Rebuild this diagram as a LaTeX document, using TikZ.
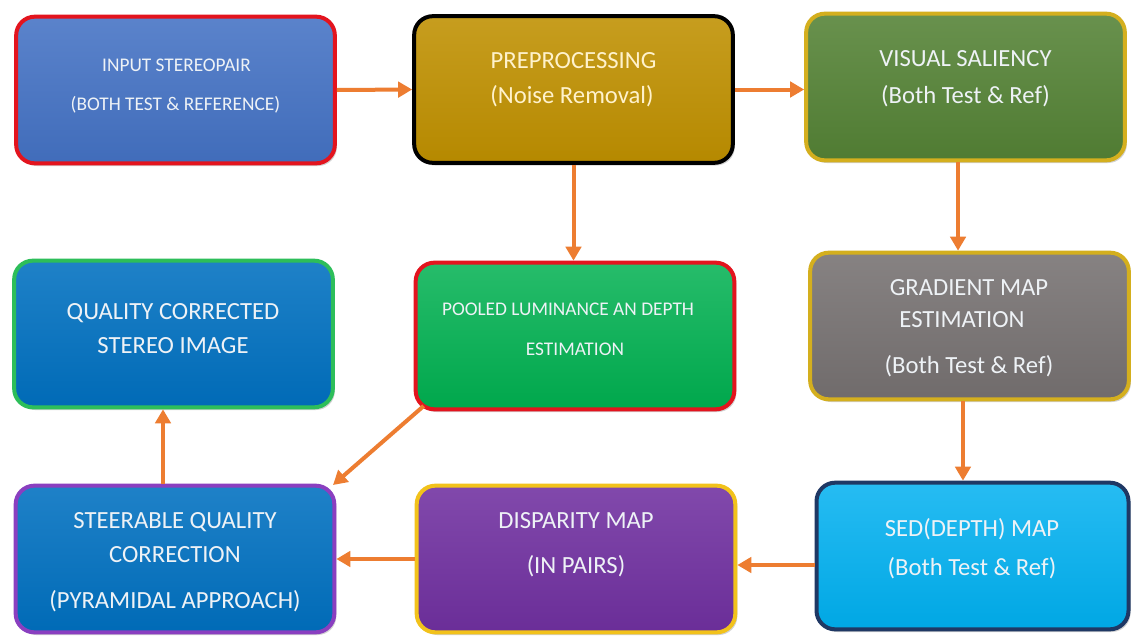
\documentclass[tikz,border=0pt]{standalone}
\usepackage{fontspec}
\setmainfont{Carlito}
\usetikzlibrary{arrows.meta,shadows}
\definecolor{cInput}{HTML}{4472C4}
\definecolor{cPre}{HTML}{BF9000}
\definecolor{cVis}{HTML}{548235}
\definecolor{cQual}{HTML}{0070C0}
\definecolor{cPool}{HTML}{00B050}
\definecolor{cGrad}{HTML}{767171}
\definecolor{cPurp}{HTML}{7030A0}
\definecolor{cSed}{HTML}{00B0F0}
\definecolor{bRed}{HTML}{E3141E}
\definecolor{bGold}{HTML}{D4AF1E}
\definecolor{bYel}{HTML}{F2C21B}
\definecolor{bGreen}{HTML}{2DBE5A}
\definecolor{bPurp}{HTML}{8A3FC0}
\definecolor{bNavy}{HTML}{1F3864}
\definecolor{cArrow}{HTML}{ED7D31}
\definecolor{tLight}{HTML}{EEF2F6}
\definecolor{tCream}{HTML}{FFF2CC}
\tikzset{
  box/.style={rounded corners=14pt, line width=3pt, inner sep=0pt,
    minimum width=239pt, minimum height=110pt,
    drop shadow={shadow xshift=1.5pt, shadow yshift=-2pt, opacity=0.35}},
  big/.style={anchor=base, inner sep=0pt, text=tLight, font=\fontsize{18.5}{20}\selectfont},
  small/.style={anchor=base, inner sep=0pt, text=tLight, font=\fontsize{14.5}{16}\selectfont},
  arr/.style={draw=cArrow, line width=3pt, -{Triangle[length=10.5pt,width=11.5pt]}},
}
\begin{document}
\begin{tikzpicture}[x=0.75pt,y=-0.75pt]
\useasboundingbox (0,0) rectangle (1132,636);
\fill[white] (0,0) rectangle (1132,636);

% boxes
\node[box, top color=cInput!88!white, bottom color=cInput!95!black, draw=bRed] (n1) at (175.5,90) {};
\node[box, top color=cPre!88!white, bottom color=cPre!95!black, draw=black] (n2) at (573.5,89.5) {};
\node[box, top color=cVis!88!white, bottom color=cVis!95!black, draw=bGold] (n3) at (965.5,87) {};
\node[box, top color=cQual!88!white, bottom color=cQual!95!black, draw=bGreen] (n4) at (173.5,334) {};
\node[box, top color=cPool!85!white, bottom color=cPool!95!black, draw=bRed] (n5) at (575,336) {};
\node[box, top color=cGrad!88!white, bottom color=cGrad!95!black, draw=bGold] (n6) at (969.5,326) {};
\node[box, top color=cQual!88!white, bottom color=cQual!95!black, draw=bPurp] (n7) at (175,559) {};
\node[box, top color=cPurp!88!white, bottom color=cPurp!95!black, draw=bYel] (n8) at (576,559) {};
\node[box, minimum width=234pt, top color=cSed!85!white, bottom color=cSed!95!black, draw=bNavy] (n9) at (972.5,556) {};

% texts
\node[small] (t1a) at (176.5,71) {INPUT STEREOPAIR};
\node[small] (t1b) at (175.5,110) {(BOTH TEST \& REFERENCE)};
\node[big, text=tCream] (t2a) at (573.5,68) {PREPROCESSING};
\node[big, text=tCream] (t2b) at (572,103) {(Noise Removal)};
\node[big] (t3a) at (965.5,66) {VISUAL SALIENCY};
\node[big] (t3b) at (965.5,103) {(Both Test \& Ref)};
\node[big] (t4a) at (173,319) {QUALITY CORRECTED};
\node[big] (t4b) at (173,353) {STEREO IMAGE};
\node[small] (t5a) at (568,315) {POOLED LUMINANCE AN DEPTH};
\node[small] (t5b) at (575,355) {ESTIMATION};
\node[big] (t6a) at (969,295) {GRADIENT MAP};
\node[big] (t6b) at (962,327) {ESTIMATION};
\node[big] (t6c) at (969,373) {(Both Test \& Ref)};
\node[big] (t7a) at (175,528) {STEERABLE QUALITY};
\node[big] (t7b) at (175,562) {CORRECTION};
\node[big] (t7c) at (175,608) {(PYRAMIDAL APPROACH)};
\node[big] (t8a) at (576,528) {DISPARITY MAP};
\node[big] (t8b) at (576,573) {(IN PAIRS)};
\node[big] (t9a) at (972,536) {SED(DEPTH) MAP};
\node[big] (t9b) at (972,575) {(Both Test \& Ref)};

% connectors
\draw[arr] (n1.east) -- (n2.west);
\draw[arr] (n2.east) -- (n2.east -| n3.west);
\draw[arr] (n2.south) -- (n2.south |- n5.north);
\draw[arr] ([xshift=-5.6pt]n3.south) -- ([xshift=-5.6pt]n3.south |- n6.north);
\draw[arr] ([xshift=-4.9pt]n6.south) -- ([xshift=-4.9pt]n6.south |- n9.north);
\draw[arr] ([yshift=-6.75pt]n9.west) -- ([yshift=-6.75pt]n9.west -| n8.east);
\draw[arr] (n8.west) -- (n8.west -| n7.east);
\draw[arr] ([xshift=-9pt]n7.north) -- ([xshift=-9pt]n7.north |- n4.south);
\draw[arr] ([shift={(7.5pt,4pt)}]n5.south west) -- ([shift={(-2.5pt,-1pt)}]n7.north east);
\end{tikzpicture}
\end{document}
